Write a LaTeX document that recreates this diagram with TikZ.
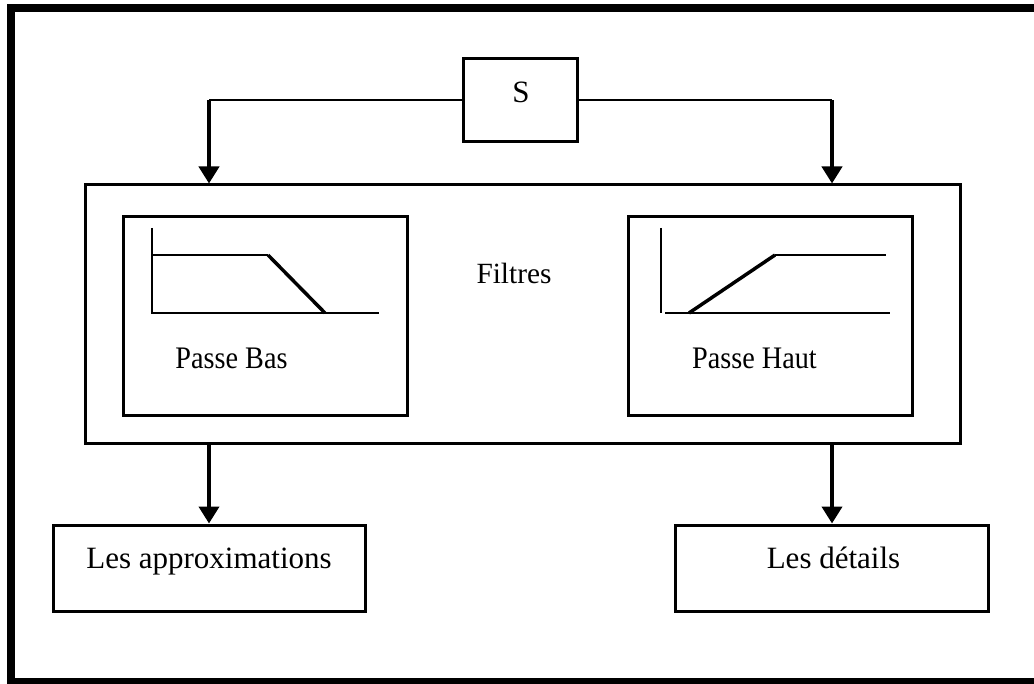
\documentclass[tikz,border=0pt]{standalone}
\usepackage{fontspec}
\setmainfont{Liberation Serif}
\newfontfamily\condfont[FakeStretch=0.9]{Liberation Serif}
\usetikzlibrary{arrows.meta}
\tikzset{
  box/.style={draw, line width=2.25pt, inner sep=0pt, fill=none},
  conn/.style={line width=1.5pt},
  arr/.style={line width=3pt, -{Triangle[width=15pt,length=12.75pt]}},
  axis/.style={line width=1.5pt},
  slope/.style={line width=2.6pt},
  lbl/.style={anchor=base, inner sep=0pt, font=\fontsize{23.25pt}{28pt}\selectfont},
  flbl/.style={anchor=base, inner sep=0pt, font=\condfont\fontsize{23.5pt}{28pt}\selectfont},
}
\begin{document}
\begin{tikzpicture}[x=0.75pt, y=-0.75pt]
\useasboundingbox (0,0) rectangle (1034,684);
\clip (0,0) rectangle (1034,684);
\fill[white] (0,0) rectangle (1034,684);
% outer frame (right side cut off)
\draw[line width=6pt] (11,8) rectangle (1060,682);
% boxes
\node[box, minimum width=85.5pt, minimum height=62.25pt] (S) at (520,100.5) {};
\node[lbl] (Stxt) at (521,103) {S};
\node[box, minimum width=656.25pt, minimum height=193.5pt] (filt) at (522.5,314) {};
\node[box, minimum width=213pt, minimum height=148.5pt] (pb) at (265,316) {};
\node[box, minimum width=213pt, minimum height=148.5pt] (ph) at (770,316) {};
\node[box, minimum width=234pt, minimum height=64.5pt] (appr) at (209,568) {};
\node[box, minimum width=234.75pt, minimum height=64.5pt] (det) at (832,568) {};
% texts
\node[lbl, font=\fontsize{22pt}{26pt}\selectfont] (ftxt) at (514,283) {Filtres};
\node[flbl] (pbtxt) at (231.5,368) {Passe Bas};
\node[flbl] (phtxt) at (754.5,368) {Passe Haut};
\node[lbl] (apptxt) at (209,568) {Les approximations};
\node[lbl] (dettxt) at (833.5,568) {Les détails};
% connectors
\coordinate (cL) at (S.west -| appr.north);
\coordinate (cR) at (S.east -| det.north);
\draw[conn] (S.west) -- (cL);
\draw[conn] (S.east) -- (cR);
\draw[arr] (cL) -- (cL |- filt.north);
\draw[arr] (cR) -- (cR |- filt.north);
\draw[arr] (appr.north |- filt.south) -- (appr.north);
\draw[arr] (det.north |- filt.south) -- (det.north);
% low-pass plot
\draw[axis] (152,228) -- (152,313) -- (379,313);
\draw[axis] (152,255) -- (268,255);
\draw[slope] (268,255) -- (325,313);
% high-pass plot
\draw[axis] (661,228) -- (661,313);
\draw[axis] (665,313) -- (890,313);
\draw[slope] (689,313) -- (775,255);
\draw[axis] (775,255) -- (886,255);
\end{tikzpicture}
\end{document}
